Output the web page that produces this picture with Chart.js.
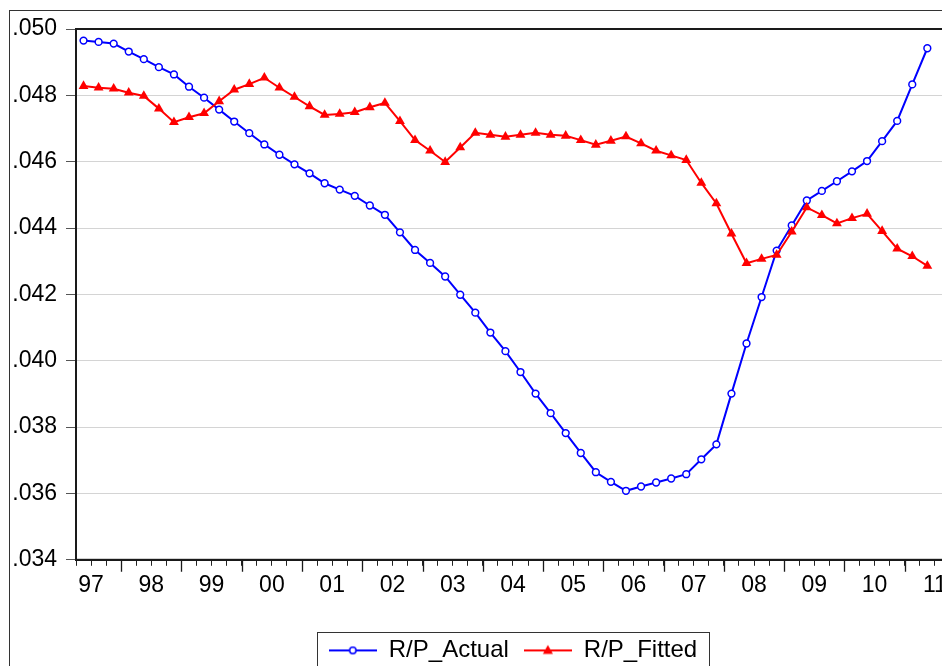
<!DOCTYPE html>
<html>
<head>
<meta charset="utf-8">
<title>R/P Actual and Fitted</title>
<script src="https://cdn.jsdelivr.net/npm/chart.js@4.4.1/dist/chart.umd.min.js"></script>
<style>
  html, body { margin: 0; padding: 0; background: #fff; overflow: hidden; }
  #wrap { position: relative; width: 942px; height: 666px; overflow: hidden; }
  #frame { position: absolute; left: 9px; top: 10px; width: 1000px; height: 700px;
           border-left: 1px solid #333; border-top: 1px solid #333; }
  #rpChart { position: absolute; left: 0; top: 0; }
</style>
</head>
<body>
<div id="wrap">
  <div id="frame"></div>
  <canvas id="rpChart" width="975" height="690"></canvas>
</div>
<script>
const quarters = [
  "1997Q2", "1997Q3", "1997Q4",
  "1998Q1", "1998Q2", "1998Q3", "1998Q4",
  "1999Q1", "1999Q2", "1999Q3", "1999Q4",
  "2000Q1", "2000Q2", "2000Q3", "2000Q4",
  "2001Q1", "2001Q2", "2001Q3", "2001Q4",
  "2002Q1", "2002Q2", "2002Q3", "2002Q4",
  "2003Q1", "2003Q2", "2003Q3", "2003Q4",
  "2004Q1", "2004Q2", "2004Q3", "2004Q4",
  "2005Q1", "2005Q2", "2005Q3", "2005Q4",
  "2006Q1", "2006Q2", "2006Q3", "2006Q4",
  "2007Q1", "2007Q2", "2007Q3", "2007Q4",
  "2008Q1", "2008Q2", "2008Q3", "2008Q4",
  "2009Q1", "2009Q2", "2009Q3", "2009Q4",
  "2010Q1", "2010Q2", "2010Q3", "2010Q4",
  "2011Q1", "2011Q2"
];

const actualValues = [
  0.04965, 0.04961, 0.04956, 0.04932, 0.04909, 0.04885, 0.04863, 0.04826, 0.04793, 0.04757,
  0.04721, 0.04686, 0.04652, 0.04621, 0.04592, 0.04565, 0.04535, 0.04516, 0.04497, 0.04468,
  0.04440, 0.04387, 0.04334, 0.04295, 0.04254, 0.04199, 0.04145, 0.04085, 0.04029, 0.03966,
  0.03901, 0.03842, 0.03782, 0.03722, 0.03664, 0.03635, 0.03608, 0.03621, 0.03633, 0.03645,
  0.03658, 0.03703, 0.03748, 0.03901, 0.04052, 0.04192, 0.04332, 0.04408, 0.04483, 0.04512,
  0.04541, 0.04571, 0.04602, 0.04662, 0.04723, 0.04833, 0.04942
];

const fittedValues = [
  0.04828, 0.04823, 0.04820, 0.04808, 0.04798, 0.04760, 0.04719, 0.04734, 0.04746, 0.04782,
  0.04817, 0.04834, 0.04853, 0.04823, 0.04795, 0.04767, 0.04741, 0.04744, 0.04749, 0.04764,
  0.04777, 0.04722, 0.04665, 0.04633, 0.04599, 0.04643, 0.04687, 0.04681, 0.04675, 0.04681,
  0.04687, 0.04681, 0.04678, 0.04665, 0.04651, 0.04663, 0.04676, 0.04655, 0.04633, 0.04619,
  0.04605, 0.04536, 0.04474, 0.04383, 0.04294, 0.04307, 0.04319, 0.04389, 0.04462, 0.04439,
  0.04414, 0.04430, 0.04443, 0.04391, 0.04338, 0.04315, 0.04286
];

const yearStarts = [1997, 1998, 1999, 2000, 2001, 2002, 2003, 2004, 2005, 2006, 2007, 2008, 2009, 2010, 2011];
const yearLabels = ["97", "98", "99", "00", "01", "02", "03", "04", "05", "06", "07", "08", "09", "10", "11"];
const yTickValues = [0.034, 0.036, 0.038, 0.040, 0.042, 0.044, 0.046, 0.048, 0.050];

const xMin = 1997.25;
const xMax = 2012;

Chart.defaults.font.family = '"Liberation Sans", Arial, Helvetica, sans-serif';
Chart.defaults.color = "#000";

// middle of a quarter, in years
function quarterPosition(q) {
  const year = parseInt(q.slice(0, 4), 10);
  const n = parseInt(q.slice(5), 10);
  return year + (n - 0.5) / 4;
}

function toPoints(values) {
  return values.map(function (v, i) {
    return { x: quarterPosition(quarters[i]), y: v };
  });
}

// little line + marker pictures for the legend
function legendSymbol(color, kind) {
  const c = document.createElement("canvas");
  c.width = 48;
  c.height = 16;
  const g = c.getContext("2d");
  g.strokeStyle = color;
  g.lineWidth = 2;
  g.beginPath();
  g.moveTo(0, 8);
  g.lineTo(48, 8);
  g.stroke();
  if (kind === "circle") {
    g.fillStyle = "#fff";
    g.lineWidth = 1.5;
    g.beginPath();
    g.arc(24, 8, 3.2, 0, Math.PI * 2);
    g.fill();
    g.stroke();
  } else {
    g.fillStyle = color;
    g.beginPath();
    g.moveTo(24, 2.5);
    g.lineTo(29, 11.5);
    g.lineTo(19, 11.5);
    g.closePath();
    g.fill();
  }
  return c;
}

const legendSymbols = [legendSymbol("#0000ff", "circle"), legendSymbol("#ff0000", "triangle")];

const framePlugin = {
  id: "frame",
  afterLayout(chart) {
    // the legend sits a bit right of the canvas middle
    chart.legend.left += 30.5;
    chart.legend.right += 30.5;
  },
  afterDraw(chart) {
    const ctx = chart.ctx;
    const area = chart.chartArea;
    const xScale = chart.scales.x;
    ctx.save();

    ctx.strokeStyle = "#1a1a1a";
    ctx.lineWidth = 2;
    ctx.strokeRect(area.left, area.top, area.right - area.left, area.bottom - area.top);

    // long ticks where each year starts
    ctx.lineWidth = 1.3;
    ctx.beginPath();
    yearStarts.concat([xMax]).forEach(function (year) {
      if (year <= xMin) return;
      const px = Math.round(xScale.getPixelForValue(year)) + 0.5;
      ctx.moveTo(px, area.bottom);
      ctx.lineTo(px, area.bottom + 12);
    });
    ctx.stroke();

    // box round the legend
    const boxes = chart.legend.legendHitBoxes;
    if (boxes && boxes.length) {
      const first = boxes[0];
      const last = boxes[boxes.length - 1];
      const left = first.left - 12;
      const right = last.left + last.width + 12;
      const top = first.top + first.height / 2 - 18;
      ctx.strokeStyle = "#333";
      ctx.lineWidth = 1;
      ctx.strokeRect(Math.round(left) + 0.5, Math.round(top) + 0.5, Math.round(right - left), 60);
    }
    ctx.restore();
  }
};

const ctx = document.getElementById("rpChart").getContext("2d");

new Chart(ctx, {
  type: "line",
  data: {
    datasets: [
      {
        label: "R/P_Actual",
        data: toPoints(actualValues),
        borderColor: "#0000ff",
        borderWidth: 2,
        pointStyle: "circle",
        pointRadius: 3.4,
        pointBorderWidth: 1.5,
        pointBackgroundColor: "#fff",
        pointBorderColor: "#0000ff",
        tension: 0,
        order: 1
      },
      {
        label: "R/P_Fitted",
        data: toPoints(fittedValues),
        borderColor: "#ff0000",
        borderWidth: 2,
        pointStyle: "triangle",
        pointRadius: 5.7,
        pointBorderWidth: 0,
        pointBackgroundColor: "#ff0000",
        pointBorderColor: "#ff0000",
        tension: 0,
        order: 0
      }
    ]
  },
  options: {
    responsive: false,
    animation: false,
    layout: {
      padding: { left: 0, right: 10, top: 29, bottom: 17.6 }
    },
    plugins: {
      tooltip: { enabled: false },
      legend: {
        position: "bottom",
        labels: {
          usePointStyle: true,
          pointStyleWidth: 48,
          padding: 15,
          font: { size: 24 },
          color: "#000",
          sort: function (a, b) {
            return a.datasetIndex - b.datasetIndex;
          },
          generateLabels: function (chart) {
            const items = Chart.defaults.plugins.legend.labels.generateLabels(chart);
            items.forEach(function (item) {
              item.pointStyle = legendSymbols[item.datasetIndex];
            });
            return items;
          }
        }
      }
    },
    scales: {
      x: {
        type: "linear",
        min: xMin,
        max: xMax,
        afterBuildTicks: function (scale) {
          const ticks = [];
          for (let v = xMin; v <= xMax + 1e-9; v += 0.25) {
            ticks.push({ value: v });
          }
          scale.ticks = ticks;
        },
        afterFit: function (scale) {
          scale.height = 63.6;
        },
        grid: {
          drawOnChartArea: false,
          drawTicks: true,
          tickLength: 6,
          tickColor: "#222",
          tickWidth: 1
        },
        border: { display: true, color: "#1a1a1a", width: 2 },
        ticks: {
          autoSkip: false,
          maxRotation: 0,
          minRotation: 0,
          padding: 6,
          font: { size: 23 },
          color: "#000",
          callback: function (value) {
            const frac = value - Math.floor(value);
            if (Math.abs(frac - 0.5) > 1e-6) return "";
            const i = yearStarts.indexOf(Math.floor(value));
            return i >= 0 ? yearLabels[i] : "";
          }
        }
      },
      y: {
        min: 0.034,
        max: 0.050,
        afterBuildTicks: function (scale) {
          scale.ticks = yTickValues.map(function (v) { return { value: v }; });
        },
        afterFit: function (scale) {
          scale.width = 76;
        },
        grid: {
          color: "#d4d4d4",
          lineWidth: 1,
          tickLength: 10,
          tickColor: "#555"
        },
        border: { display: true, color: "#1a1a1a", width: 2 },
        ticks: {
          padding: 9,
          font: { size: 23 },
          color: "#000",
          callback: function (value) {
            return value.toFixed(3).replace(/^0/, "");
          }
        }
      }
    }
  },
  plugins: [framePlugin]
});
</script>
</body>
</html>
